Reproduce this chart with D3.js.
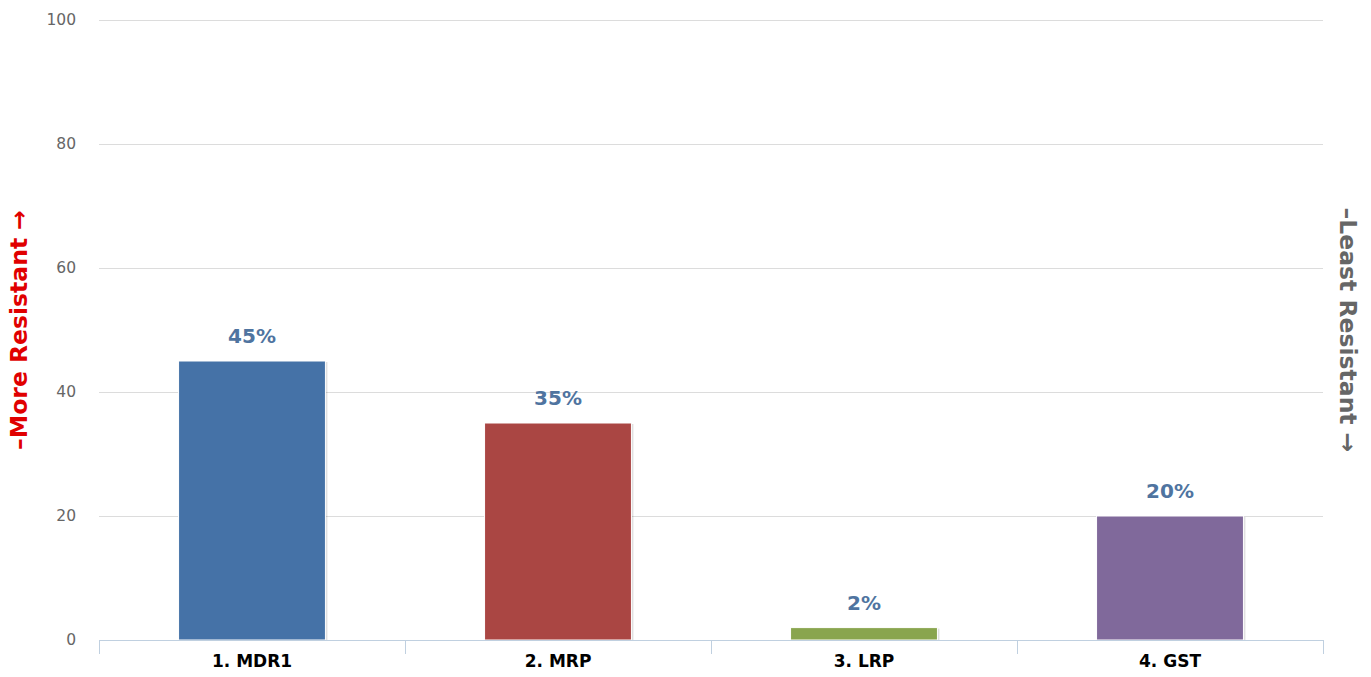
<!DOCTYPE html>
<html><head><meta charset="utf-8">
<script src="https://cdn.jsdelivr.net/npm/d3@7"></script>
<style>body{margin:0;background:#fff;}svg{display:block;font-family:"DejaVu Sans",sans-serif;}</style>
</head><body>
<svg id="c" width="1371" height="677"></svg>
<script>
const categories = ["1. MDR1", "2. MRP", "3. LRP", "4. GST"];
const values = [45, 35, 2, 20];
const colors = ["#4572A7", "#AA4643", "#89A54E", "#80699B"];
const yTicks = [0, 20, 40, 60, 80, 100];
const leftTitle = "\u2013More Resistant \u2192";
const rightTitle = "\u2013Least Resistant \u2192";

const svg = d3.select("#c");
const m = {left: 99, right: 1323, top: 20, bottom: 640};
const x = d3.scaleBand().domain(categories).range([m.left, m.right]).paddingInner(0.52).paddingOuter(0.26);
const xb = d3.scaleBand().domain(categories).range([m.left, m.right]);
const y = d3.scaleLinear().domain([0, 100]).range([m.bottom, m.top]);

// grid
svg.append("g").selectAll("line").data(yTicks.filter(d => d > 0)).join("line")
  .attr("x1", m.left).attr("x2", m.right)
  .attr("y1", d => y(d) + 0.5).attr("y2", d => y(d) + 0.5)
  .attr("stroke", "#DCDCDC").attr("stroke-width", 1);

// y labels
svg.append("g").selectAll("text").data(yTicks).join("text")
  .attr("x", 76).attr("y", d => y(d)).attr("dy", "0.35em")
  .attr("text-anchor", "end").attr("font-size", 15.5).attr("fill", "#666")
  .text(d => d);

// bars shadow
const bars = svg.append("g");
bars.selectAll("rect.sh").data(values).join("rect").attr("class", "sh")
  .attr("x", (d, i) => x(categories[i]) + 2).attr("y", d => y(d) + 1)
  .attr("width", x.bandwidth()).attr("height", d => y(0) - y(d) - 1)
  .attr("fill", "#000").attr("opacity", 0.12);
bars.selectAll("rect.b").data(values).join("rect").attr("class", "b")
  .attr("x", (d, i) => x(categories[i])).attr("y", d => y(d))
  .attr("width", x.bandwidth()).attr("height", d => y(0) - y(d))
  .attr("fill", (d, i) => colors[i]).attr("stroke", "#fff").attr("stroke-width", 1);

// x axis
const xa = d3.axisBottom(xb).tickSize(0).tickPadding(15);
const gx = svg.append("g").attr("transform", `translate(0,${m.bottom})`).call(xa);
gx.select(".domain").attr("stroke", "#C0D0E0").attr("d", `M${m.left},0.5H${m.right}`);
gx.selectAll("text").attr("font-size", 17).attr("font-weight", "bold").attr("fill", "#000")
  .attr("font-family", "DejaVu Sans, sans-serif");
// category boundary ticks
const bounds = categories.map(c => xb(c)).concat([m.right]);
svg.append("g").selectAll("line").data(bounds).join("line")
  .attr("x1", d => d + 0.5).attr("x2", d => d + 0.5)
  .attr("y1", m.bottom).attr("y2", m.bottom + 14)
  .attr("stroke", "#C0D0E0");

// data labels
svg.append("g").selectAll("text").data(values).join("text")
  .attr("x", (d, i) => xb(categories[i]) + xb.bandwidth() / 2)
  .attr("y", d => y(d) - 25).attr("dy", "0.35em")
  .attr("text-anchor", "middle").attr("font-size", 20).attr("font-weight", "bold")
  .attr("fill", "#4f74a0").text(d => d + "%");

// titles
svg.append("text").attr("transform", `translate(27,${(m.top + m.bottom) / 2}) rotate(-90)`)
  .attr("text-anchor", "middle").attr("font-size", 23.5).attr("font-weight", "bold")
  .attr("fill", "#E00000").text(leftTitle);
svg.append("text").attr("transform", `translate(1340,${(m.top + m.bottom) / 2}) rotate(90)`)
  .attr("text-anchor", "middle").attr("font-size", 23.5).attr("font-weight", "bold")
  .attr("fill", "#666").text(rightTitle);
</script>
</body></html>
